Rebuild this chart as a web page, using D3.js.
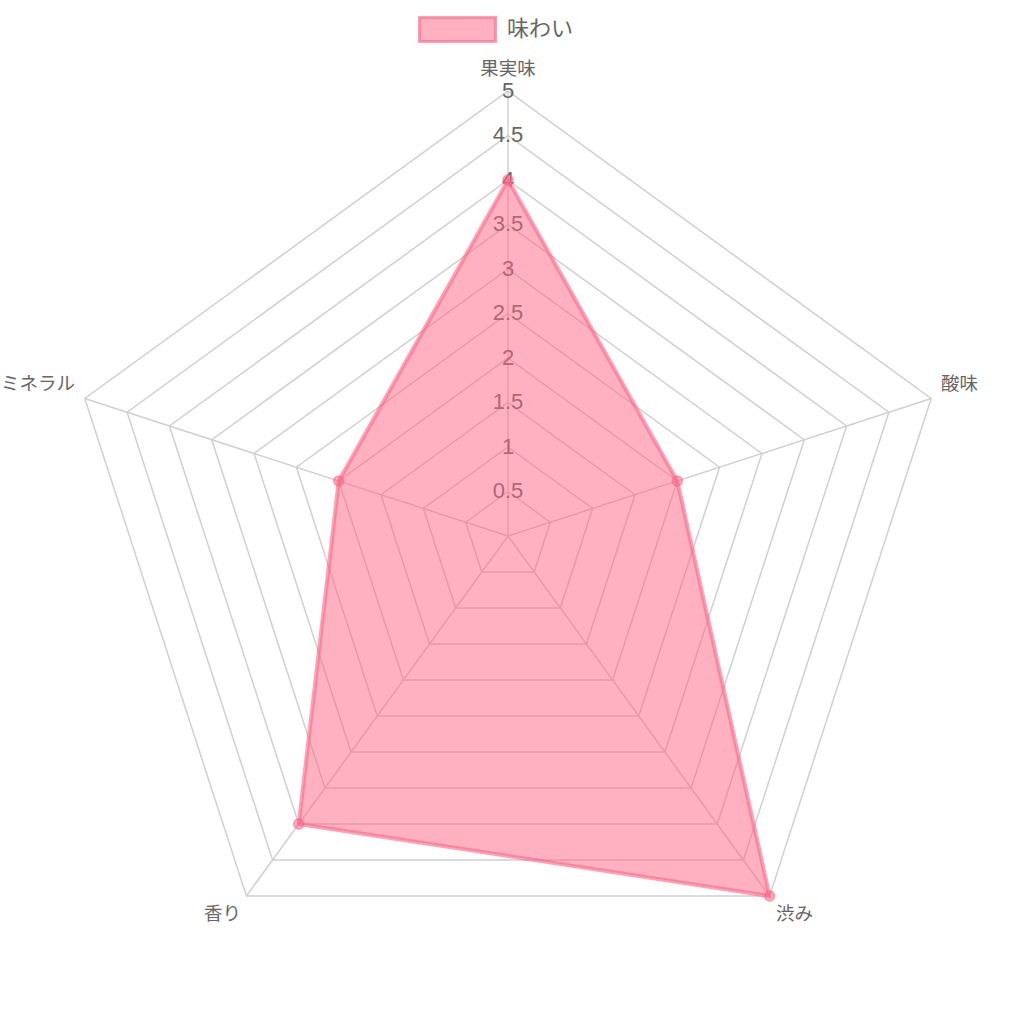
<!DOCTYPE html>
<html><head><meta charset="utf-8">
<script src="https://cdn.jsdelivr.net/npm/d3@7"></script>
<style>html,body{margin:0;padding:0;background:#fff;}svg{display:block;font-family:"Liberation Sans",Arial,"Noto Sans CJK JP",sans-serif;}</style>
</head><body>
<svg id="c" width="1012" height="1012"></svg>
<script>
const categories = ["果実味", "酸味", "渋み", "香り", "ミネラル"];
const values = [4, 2, 5, 4, 2];
const seriesName = "味わい";
const tickValues = [0.5, 1, 1.5, 2, 2.5, 3, 3.5, 4, 4.5, 5];
const gridLevels = [0.5, 1, 1.5, 2, 2.5, 3, 3.5, 4, 4.5, 5];

const svg = d3.select("#c");
const cx = 508, cy = 536, R = 445;
const r = d3.scaleLinear().domain([0, 5]).range([0, R]);
const n = categories.length;
const ang = i => -Math.PI / 2 + i * 2 * Math.PI / n;
const pt = (i, v) => [cx + r(v) * Math.cos(ang(i)), cy + r(v) * Math.sin(ang(i))];
const gridColor = "#d0d0d0";

svg.append("g").selectAll("polygon").data(gridLevels).join("polygon")
  .attr("points", v => d3.range(n).map(i => pt(i, v).join(",")).join(" "))
  .attr("fill", "none").attr("stroke", gridColor).attr("stroke-width", 1.5);
svg.append("g").selectAll("line").data(d3.range(n)).join("line")
  .attr("x1", cx).attr("y1", cy)
  .attr("x2", i => pt(i, 5)[0]).attr("y2", i => pt(i, 5)[1])
  .attr("stroke", gridColor).attr("stroke-width", 1.5);

svg.append("g").selectAll("text").data(tickValues).join("text")
  .attr("x", cx).attr("y", v => cy - r(v) - 1)
  .attr("text-anchor", "middle").attr("dominant-baseline", "central")
  .attr("font-size", 22).attr("fill", "#666").text(v => v);

const labelPos = [
  {x: 508, y: 68, a: "middle"},
  {x: 941, y: 383, a: "start"},
  {x: 776, y: 913, a: "start"},
  {x: 241, y: 913, a: "end"},
  {x: 75, y: 383, a: "end"}
];
svg.append("g").selectAll("text").data(categories).join("text")
  .attr("x", (d, i) => labelPos[i].x).attr("y", (d, i) => labelPos[i].y)
  .attr("text-anchor", (d, i) => labelPos[i].a).attr("dominant-baseline", "central")
  .attr("font-size", 18.5).attr("fill", "#666").text(d => d);

const line = d3.lineRadial().angle((d, i) => i * 2 * Math.PI / n).radius(d => r(d)).curve(d3.curveLinearClosed);
svg.append("path").attr("transform", `translate(${cx},${cy})`)
  .attr("d", line(values))
  .attr("fill", "rgba(255,99,132,0.5)").attr("stroke", "rgba(255,99,132,0.6)").attr("stroke-width", 4)
  .attr("stroke-linejoin", "miter");
svg.append("g").selectAll("circle").data(values).join("circle")
  .attr("cx", (v, i) => pt(i, v)[0]).attr("cy", (v, i) => pt(i, v)[1]).attr("r", 5)
  .attr("fill", "rgba(255,99,132,0.5)").attr("stroke", "rgba(255,99,132,0.6)").attr("stroke-width", 1.5);

const lg = svg.append("g");
lg.append("rect").attr("x", 419.5).attr("y", 17.5).attr("width", 76).attr("height", 24)
  .attr("fill", "rgba(255,99,132,0.5)").attr("stroke", "rgba(255,99,132,0.6)").attr("stroke-width", 3);
lg.append("text").attr("x", 507).attr("y", 28).attr("dominant-baseline", "central")
  .attr("font-size", 22).attr("fill", "#666").text(seriesName);
</script>
</body></html>
